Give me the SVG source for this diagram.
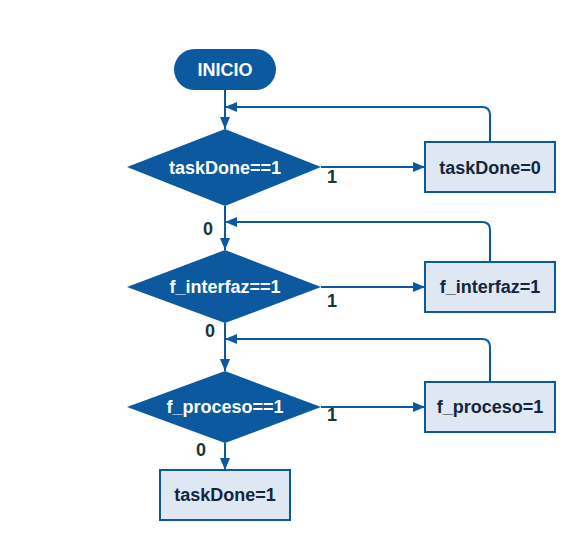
<svg xmlns="http://www.w3.org/2000/svg" width="575" height="540" viewBox="0 0 575 540">
<style>
.dec{fill:#0c59a0}
.term{fill:#0c59a0}
.box{fill:#dfe7f2;stroke:#0c59a0;stroke-width:2}
.wt{fill:#ffffff;font-family:"Liberation Sans",Arial,sans-serif;font-weight:bold;font-size:18px;text-anchor:middle;dominant-baseline:central}
.dt{fill:#12263f;font-family:"Liberation Sans",Arial,sans-serif;font-weight:bold;font-size:18px;text-anchor:middle;dominant-baseline:central}
.lb{fill:#17353d;font-family:"Liberation Sans",Arial,sans-serif;font-weight:bold;font-size:18px;text-anchor:middle;dominant-baseline:central}
.ln{fill:none;stroke:#0c59a0;stroke-width:2}
</style>
<defs>
<marker id="ah" viewBox="0 0 12 10" refX="12" refY="5" markerWidth="12" markerHeight="10" markerUnits="userSpaceOnUse" orient="auto">
<path d="M0,0 L12,5 L0,10 Z" fill="#0c59a0"/>
</marker>
</defs>
<g id="connectors">
<path class="ln" d="M225,90 V129" marker-end="url(#ah)"/>
<path class="ln" d="M225,206 V250" marker-end="url(#ah)"/>
<path class="ln" d="M225,323 V371" marker-end="url(#ah)"/>
<path class="ln" d="M225,443 V470" marker-end="url(#ah)"/>
<path class="ln" d="M321,167 H425" marker-end="url(#ah)"/>
<path class="ln" d="M321,287 H425" marker-end="url(#ah)"/>
<path class="ln" d="M321,407 H425" marker-end="url(#ah)"/>
<path class="ln" d="M490,142 V115 Q490,107 482,107 H225" marker-end="url(#ah)"/>
<path class="ln" d="M490,262 V230 Q490,222 482,222 H225" marker-end="url(#ah)"/>
<path class="ln" d="M490,382 V347 Q490,339 482,339 H225" marker-end="url(#ah)"/>
<text class="lb" x="332" y="177">1</text>
<text class="lb" x="332" y="301">1</text>
<text class="lb" x="332" y="415">1</text>
<text class="lb" x="208" y="229">0</text>
<text class="lb" x="210" y="331">0</text>
<text class="lb" x="201" y="450">0</text>
</g>
<g id="inicio">
<rect class="term" x="174" y="49" width="102" height="41" rx="20.5"/>
<text class="wt" x="225" y="70">INICIO</text>
</g>
<g id="d1">
<path class="dec" d="M225,129 L321,167 L225,206 L127,167 Z"/>
<text class="wt" x="225" y="168">taskDone==1</text>
</g>
<g id="b1">
<rect class="box" x="425" y="142" width="130" height="50"/>
<text class="dt" x="490" y="168">taskDone=0</text>
</g>
<g id="d2">
<path class="dec" d="M225,250 L321,287 L225,323 L127,287 Z"/>
<text class="wt" x="225" y="287">f_interfaz==1</text>
</g>
<g id="b2">
<rect class="box" x="425" y="262" width="130" height="50"/>
<text class="dt" x="490" y="287">f_interfaz=1</text>
</g>
<g id="d3">
<path class="dec" d="M225,371 L321,407 L225,443 L127,407 Z"/>
<text class="wt" x="225" y="407">f_proceso==1</text>
</g>
<g id="b3">
<rect class="box" x="425" y="382" width="130" height="50"/>
<text class="dt" x="490" y="407">f_proceso=1</text>
</g>
<g id="end">
<rect class="box" x="160" y="470" width="130" height="50"/>
<text class="dt" x="225" y="495">taskDone=1</text>
</g>
</svg>
